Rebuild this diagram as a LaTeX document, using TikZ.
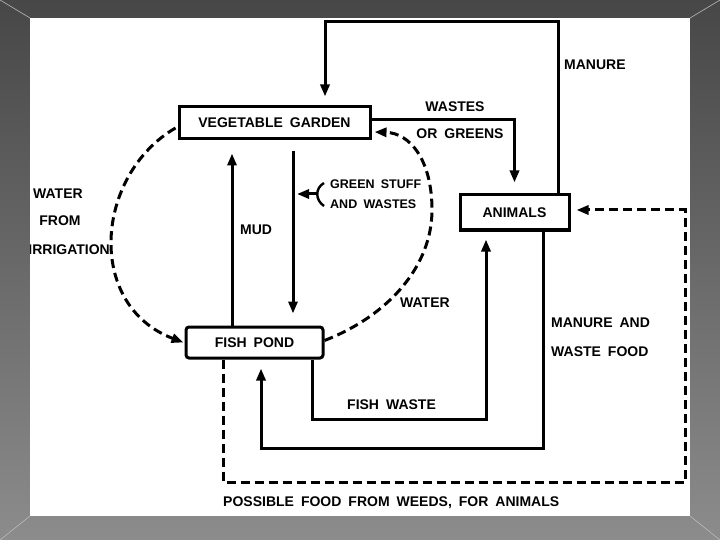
\documentclass[tikz,border=0pt]{standalone}
\usepackage{fontspec}
\setmainfont{Liberation Sans}[WordSpace=1.8]
\usetikzlibrary{arrows.meta}
\definecolor{bgtop}{HTML}{474747}
\definecolor{bgbot}{HTML}{8C8C8C}
\begin{document}
\begin{tikzpicture}[x=1pt,y=-1pt,
  lbl/.style={font=\fontsize{14}{16}\selectfont\bfseries, inner sep=0pt},
  smlbl/.style={font=\fontsize{12.5}{14}\selectfont\bfseries, inner sep=0pt},
  boxn/.style={draw, line width=3pt, inner sep=0pt, font=\fontsize{14}{16}\selectfont\bfseries},
  arr/.style={line width=3pt, -{Triangle[length=12pt,width=9pt]}},
  darr/.style={arr, dash pattern=on 9pt off 5pt},
  dline/.style={line width=3pt, dash pattern=on 9pt off 5pt}
]
\useasboundingbox (0,0) rectangle (720,540);
\shade[top color=bgtop, bottom color=bgbot] (0,0) rectangle (720,540);
\draw[gray!55, line width=0.6pt] (0,0) -- (30,18) (720,0) -- (690,18) (0,540) -- (30,516) (720,540) -- (690,516);
\fill[white] (30,18) rectangle (690,516);
\begin{scope}
\clip (30,18) rectangle (690,516);
% boxes
\node[boxn, minimum width=191pt, minimum height=32pt] (garden) at (274.5,123) {VEGETABLE GARDEN};
\node[boxn, minimum width=137pt, minimum height=31pt, rounded corners=3pt] (pond) at (254.5,342.5) {FISH POND};
\node[boxn, minimum width=109pt, minimum height=35pt] (animals) at (514.5,212.5) {ANIMALS};
% labels
\node[lbl, anchor=west] (lmanure) at (564,65) {MANURE};
\node[lbl] (lwastes) at (455,107) {WASTES};
\node[lbl] (lgreens) at (460,134) {OR GREENS};
\node[smlbl, anchor=west] (lgs1) at (330,184) {GREEN STUFF};
\node[smlbl, anchor=west] (lgs2) at (330,204) {AND WASTES};
\node[lbl, anchor=west] (lw1) at (33,194) {WATER};
\node[lbl] (lw2) at (60,221) {FROM};
\node[lbl, anchor=east] (lw3) at (110,250) {IRRIGATION};
\node[lbl, anchor=west] (lmud) at (240,230) {MUD};
\node[lbl, anchor=west] (lwater) at (400,303) {WATER};
\node[lbl, anchor=west] (lmw1) at (551,323) {MANURE AND};
\node[lbl, anchor=west] (lmw2) at (551,352) {WASTE FOOD};
\node[lbl, anchor=west] (lfw) at (347,405) {FISH WASTE};
\node[lbl, anchor=west] (lpf) at (223,503) {POSSIBLE FOOD FROM WEEDS, FOR ANIMALS};
% coordinates
\coordinate (mtop) at (440,22);
\coordinate (corner) at (685,482);
\coordinate (brace) at (318,194);
\coordinate (gtip) at (297,194);
% connectors
\draw[arr, shorten >=9pt] ([xshift=-12pt]animals.north east) |- (mtop) -| ([xshift=50.5pt]garden.north);
\draw[arr, shorten >=11pt] ([yshift=3pt]garden.east) -| (animals.north);
\draw[darr] ([yshift=2pt]pond.east) .. controls (390,315) and (432,265) .. (432,210)
   .. controls (432,160) and (410,133) .. ([shift={(3pt,-9pt)}]garden.east);
\draw[darr] ([shift={(-2pt,-5pt)}]garden.west) .. controls (95,175) and (85,305) .. ([xshift=-1pt]pond.west);
\draw[arr, shorten >=13pt] ([xshift=-22.5pt]pond.north) -- ([xshift=-42.5pt]garden.south);
\draw[arr, shorten <=11pt, shorten >=12pt] ([xshift=18.5pt]garden.south) -- ([xshift=38.5pt]pond.north);
\draw[line width=2.4pt] (324,183) .. controls (315,188) and (315,200) .. (324,206);
\draw[arr] (brace) -- (gtip);
\draw[arr, shorten >=8pt] ([xshift=57.5pt]pond.south) -- ++(0,60) -| ([xshift=-28.5pt]animals.south);
\draw[arr, shorten >=9pt] ([xshift=28.5pt]animals.south) -- ++(0,217) -| ([xshift=6.5pt]pond.south);
\draw[darr, shorten >=6pt] ([xshift=-31.5pt]pond.south) |- (corner) |- ([yshift=2.5pt]animals.east);
\end{scope}
\end{tikzpicture}
\end{document}
